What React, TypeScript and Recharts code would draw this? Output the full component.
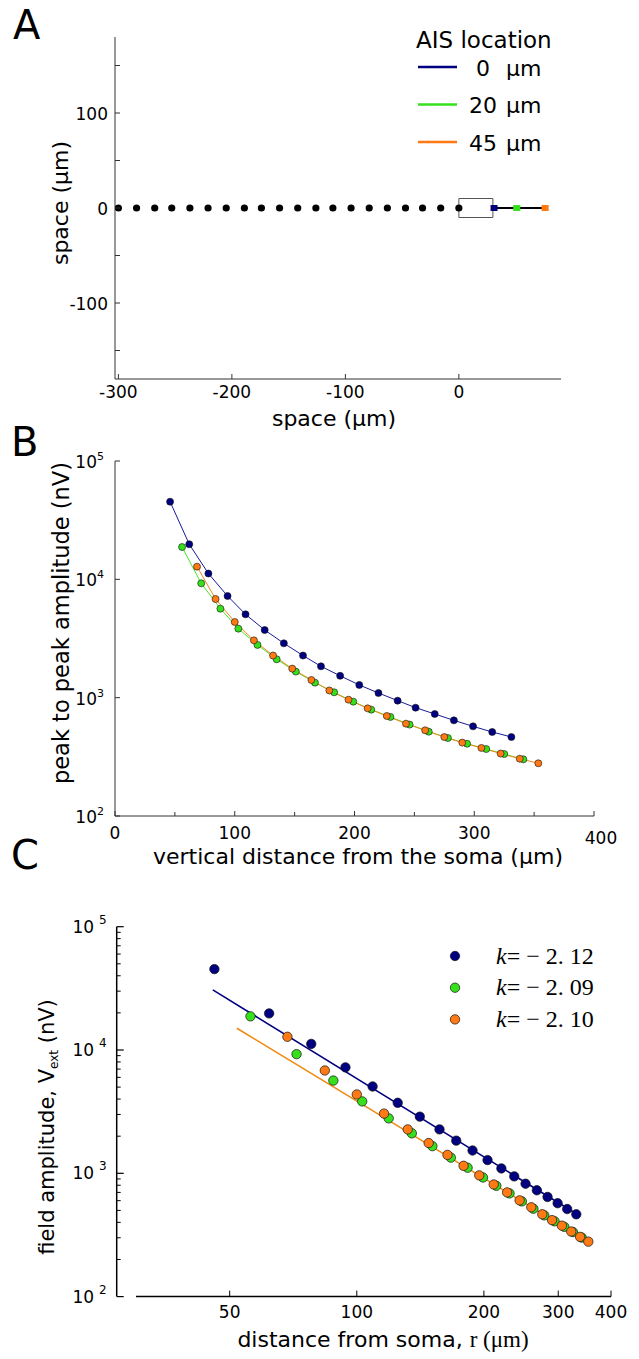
import React from 'react';
import { ComposedChart, Line, Scatter, XAxis, YAxis, ReferenceArea, ReferenceLine, Cell } from 'recharts';

const FONT = '"DejaVu Sans", sans-serif';
const SERIF = '"Liberation Serif", "DejaVu Serif", serif';

const NAVY = '#000080';
const GREEN = '#36e01c';
const ORANGE = '#ff7a14';
const AIS_COLORS = [NAVY, GREEN, ORANGE];

// ---- panel A: recording sites and AIS positions
const electrodeX = [-300, -284, -268, -253, -237, -221, -205, -189, -174, -158, -142, -126, -111, -95, -79, -63, -47, -32, -16, 0];
const axonX = [30, 76];
const aisX = [31, 51, 76];
const aisNames = ['0', '20', '45'];
const aTicksX = [-300, -200, -100, 0];
const aTicksY = [-150, -100, -50, 0, 50, 100, 150];
const aLabelsY = [-100, 0, 100];

// ---- panel B / C: peak to peak amplitude vs distance (nV, um)
const distBlue = [46, 62, 78, 94, 109, 125, 141, 157, 172, 188, 204, 220, 236, 251, 267, 283, 299, 315, 331];
const ampBlue = [45300, 19800, 11200, 7230, 5060, 3730, 2880, 2270, 1840, 1530, 1280, 1095, 944, 823, 728, 643, 572, 513, 465];
const distGreen = [56, 72, 88, 103, 119, 135, 151, 167, 183, 199, 214, 230, 246, 262, 278, 294, 310, 325, 341];
const ampGreen = [18750, 9250, 5650, 3830, 2790, 2110, 1660, 1340, 1110, 925, 792, 687, 592, 516, 456, 408, 368, 334, 301];
const distOrange = [68.5, 84, 100, 116, 132, 148, 164, 179, 195, 211, 227, 243, 259, 275, 290, 306, 322, 338, 353.5];
const ampOrange = [12800, 6820, 4360, 3050, 2270, 1760, 1410, 1150, 962, 812, 700, 603, 530, 465, 417, 376, 337, 305, 279];

const bTicksX = [0, 50, 100, 150, 200, 250, 300, 350, 400];
const bLabelsX = [0, 100, 200, 300, 400];
const decades = [100, 1000, 10000, 100000];

// ---- panel C: power-law fits
const fitBlueR = [45.6, 331];
const fitBlueV = [30700, 470];
const fitOrangeR = [52, 354];
const fitOrangeV = [15000, 278];
const fitK = ['2. 12', '2. 09', '2. 10'];
const cTicksX = [50, 100, 200, 300, 400];
const cTicksY = [100, 200, 300, 400, 500, 600, 700, 800, 900, 1000, 2000, 3000, 4000, 5000, 6000, 7000, 8000, 9000,
  10000, 20000, 30000, 40000, 50000, 60000, 70000, 80000, 90000, 100000];

const pts = (xs: number[], ys: number[]) => xs.map((x, i) => ({ x, y: ys[i] }));

const electrodeData = electrodeX.map((x) => ({ x, y: 0 }));
const axonData = axonX.map((x) => ({ x, y: 0 }));
const aisData = aisX.map((x) => ({ x, y: 0 }));
const blueData = pts(distBlue, ampBlue);
const greenData = pts(distGreen, ampGreen);
const orangeData = pts(distOrange, ampOrange);

const circle = (r: number, fill: string, sw = 0.7) => (p: any) =>
  <circle cx={p.cx} cy={p.cy} r={r} fill={fill} stroke={fill === '#000' ? 'none' : '#111'} strokeWidth={sw} />;
const square = (p: any) => <rect x={p.cx - 3.5} y={p.cy - 3} width={7} height={6} fill={p.fill} />;

const tickText = { fontSize: 17, fontFamily: FONT, fill: '#000' };

const aTickX = (p: any) => (
  <g>
    <line x1={p.x} x2={p.x} y1={p.y} y2={p.y - 5} stroke="#333" />
    <text x={p.x} y={p.y + 19} textAnchor="middle" {...tickText}>{p.payload.value}</text>
  </g>
);
const aTickY = (p: any) => (
  <g>
    <line x1={p.x} x2={p.x + 5} y1={p.y} y2={p.y} stroke="#333" />
    {aLabelsY.includes(p.payload.value) && (
      <text x={p.x - 7} y={p.y + 7} textAnchor="end" {...tickText}>{p.payload.value}</text>
    )}
  </g>
);
const bTickX = (p: any) => {
  const v = p.payload.value;
  const last = v === 400;
  return (
    <g>
      <line x1={p.x} x2={p.x} y1={p.y} y2={p.y - (bLabelsX.includes(v) ? 5 : 4)} stroke="#333" />
      {bLabelsX.includes(v) && (
        <text x={p.x + (last ? 7 : 0)} y={p.y + (last ? 28 : 23)} textAnchor="middle" {...tickText}>{v}</text>
      )}
    </g>
  );
};
const bTickY = (p: any) => (
  <g>
    <line x1={p.x} x2={p.x + 5} y1={p.y} y2={p.y} stroke="#333" />
    <text x={p.x - 11} y={p.y + 7} textAnchor="end" {...tickText}>
      10<tspan dy={-8} fontSize={11}>{Math.round(Math.log10(p.payload.value))}</tspan>
    </text>
  </g>
);
const cTickX = (p: any) => (
  <g>
    <line x1={p.x} x2={p.x} y1={p.y} y2={p.y - 6} stroke="#000" />
    <text x={p.x} y={p.y + 21} textAnchor="middle" {...tickText}>{p.payload.value}</text>
  </g>
);
const cTickY = (p: any) => {
  const v = p.payload.value;
  const major = decades.includes(v);
  return (
    <g>
      <line x1={p.x} x2={p.x + (major ? 7 : 4)} y1={p.y} y2={p.y} stroke="#000" strokeWidth={major ? 1.2 : 1} />
      {major && (
        <text x={p.x - 10} y={p.y + 6} textAnchor="end" {...tickText}>
          10<tspan dx={5} dy={-9} fontSize={12}>{Math.round(Math.log10(v))}</tspan>
        </text>
      )}
    </g>
  );
};

// axes keep their default room; the margins are reduced by it so the plot box lands where the figure has it
const AXW = 40;
const AXH = 30;
const axisBase = { type: 'number' as const, interval: 0 as const, allowDataOverflow: true, tickSize: 0, tickMargin: 0, tickLine: false };

const PanelA = () => (
  <ComposedChart width={639} height={440} margin={{ top: 37, right: 78, bottom: 61 - AXH, left: 115 - AXW }}>
    <XAxis {...axisBase} dataKey="x" domain={[-303, 90]} ticks={aTicksX} height={AXH} axisLine={{ stroke: '#333' }} tick={aTickX} />
    <YAxis {...axisBase} dataKey="y" domain={[-180, 180]} ticks={aTicksY} width={AXW} axisLine={{ stroke: '#333' }} tick={aTickY} />
    <ReferenceArea x1={0} x2={30} y1={-10} y2={10} fill="#fff" fillOpacity={1} stroke="#555" strokeWidth={1} ifOverflow="visible" />
    <Line data={axonData} dataKey="y" stroke="#000" strokeWidth={2} dot={false} isAnimationActive={false} />
    <Scatter data={electrodeData} shape={circle(3.6, '#000')} isAnimationActive={false} />
    <Scatter data={aisData} shape={square} isAnimationActive={false}>
      {aisData.map((d, i) => <Cell key={i} fill={AIS_COLORS[i]} />)}
    </Scatter>
  </ComposedChart>
);

const bDot = (c: string) => ({ r: 3.5, fill: c, stroke: '#111', strokeWidth: 0.6 });

const PanelB = () => (
  <ComposedChart width={639} height={460} margin={{ top: 41, right: 45, bottom: 64 - AXH, left: 115 - AXW }}>
    <XAxis {...axisBase} dataKey="x" domain={[0, 400]} ticks={bTicksX} height={AXH} axisLine={{ stroke: '#333' }} tick={bTickX} />
    <YAxis {...axisBase} dataKey="y" scale="log" domain={[100, 100000]} ticks={decades} width={AXW} axisLine={{ stroke: '#333' }} tick={bTickY} />
    <Line data={blueData} dataKey="y" stroke="#1a1a9a" strokeWidth={1} dot={bDot(NAVY)} isAnimationActive={false} />
    <Line data={greenData} dataKey="y" stroke="#44e826" strokeWidth={1} dot={bDot(GREEN)} isAnimationActive={false} />
    <Line data={orangeData} dataKey="y" stroke="#f5841c" strokeWidth={1} dot={bDot(ORANGE)} isAnimationActive={false} />
  </ComposedChart>
);

const PanelC = () => (
  <ComposedChart width={639} height={479} margin={{ top: 46.7, right: 28, bottom: 62.4 - AXH, left: 116.7 - AXW }}>
    <XAxis {...axisBase} dataKey="x" scale="log" domain={[27, 400]} ticks={cTicksX} height={AXH} axisLine={false} tick={cTickX} />
    <YAxis {...axisBase} dataKey="y" scale="log" domain={[100, 100000]} ticks={cTicksY} width={AXW} axisLine={{ stroke: '#000', strokeWidth: 1.5 }} tick={cTickY} />
    <ReferenceLine segment={[{ x: 30, y: 100 }, { x: 400, y: 100 }]} stroke="#000" strokeWidth={1.5} ifOverflow="visible" />
    <Line data={pts(fitBlueR, fitBlueV)} dataKey="y" stroke={NAVY} strokeWidth={1.6} dot={false} isAnimationActive={false} />
    <Line data={pts(fitOrangeR, fitOrangeV)} dataKey="y" stroke="#ee8a12" strokeWidth={1.6} dot={false} isAnimationActive={false} />
    <Scatter data={blueData} shape={circle(4.7, NAVY)} isAnimationActive={false} />
    <Scatter data={greenData} shape={circle(4.7, GREEN)} isAnimationActive={false} />
    <Scatter data={orangeData} shape={circle(4.7, ORANGE)} isAnimationActive={false} />
  </ComposedChart>
);

const Overlay = () => {
  const lab = { fontFamily: FONT, fontSize: 22, fill: '#000' };
  return (
    <svg width={639} height={1359} style={{ position: 'absolute', left: 0, top: 0, pointerEvents: 'none' }}>
      <text x={13} y={39} fontFamily={FONT} fontSize={40}>A</text>
      <text x={11} y={456} fontFamily={FONT} fontSize={40}>B</text>
      <text x={11} y={869} fontFamily={FONT} fontSize={40}>C</text>

      {/* panel A labels and legend */}
      <text x={68} y={203} transform="rotate(-90 68 203)" textAnchor="middle" {...lab}>space (μm)</text>
      <text x={334} y={426} textAnchor="middle" {...lab}>space (μm)</text>
      <text x={416} y={48} {...lab} fontSize={23}>AIS location</text>
      {aisNames.map((n, i) => {
        const y = 67 + i * 37.5;
        return (
          <g key={n}>
            <line x1={418} x2={457} y1={y} y2={y} stroke={AIS_COLORS[i]} strokeWidth={2.5} />
            <text x={i === 0 ? 476 : 469} y={y + 8.5} {...lab}>{n}</text>
            <text x={506} y={y + 8.5} {...lab}>μm</text>
          </g>
        );
      })}

      {/* panel B labels */}
      <text x={69} y={623} transform="rotate(-90 69 623)" textAnchor="middle" {...lab} fontSize={22.5}>peak to peak amplitude (nV)</text>
      <text x={358} y={864} textAnchor="middle" {...lab}>vertical distance from the soma (μm)</text>

      {/* panel C labels and legend */}
      <text x={54} y={1127} transform="rotate(-90 54 1127)" textAnchor="middle" {...lab} fontSize={21}>
        field amplitude, V<tspan fontSize={12} dy={4}>ext</tspan><tspan dy={-4}> (nV)</tspan>
      </text>
      <text x={383} y={1347} textAnchor="middle" {...lab}>
        distance from soma, <tspan fontFamily={SERIF} fontSize={23}>r (μm)</tspan>
      </text>
      {fitK.map((k, i) => {
        const y = 956 + i * 31.7;
        return (
          <g key={k}>
            <circle cx={455} cy={y} r={4.7} fill={AIS_COLORS[i]} stroke="#111" strokeWidth={0.7} />
            <text x={496} y={y + 7.5} fontFamily={SERIF} fontSize={24} fill="#000">
              <tspan fontStyle="italic">k</tspan>= − {k}
            </text>
          </g>
        );
      })}
    </svg>
  );
};

export default function App() {
  return (
    <div style={{ position: 'absolute', left: 0, top: 0, width: 639, height: 1359, background: '#fff', fontFamily: FONT }}>
      <div style={{ position: 'absolute', left: 0, top: 0 }}><PanelA /></div>
      <div style={{ position: 'absolute', left: 0, top: 420 }}><PanelB /></div>
      <div style={{ position: 'absolute', left: 0, top: 880 }}><PanelC /></div>
      <Overlay />
    </div>
  );
}
